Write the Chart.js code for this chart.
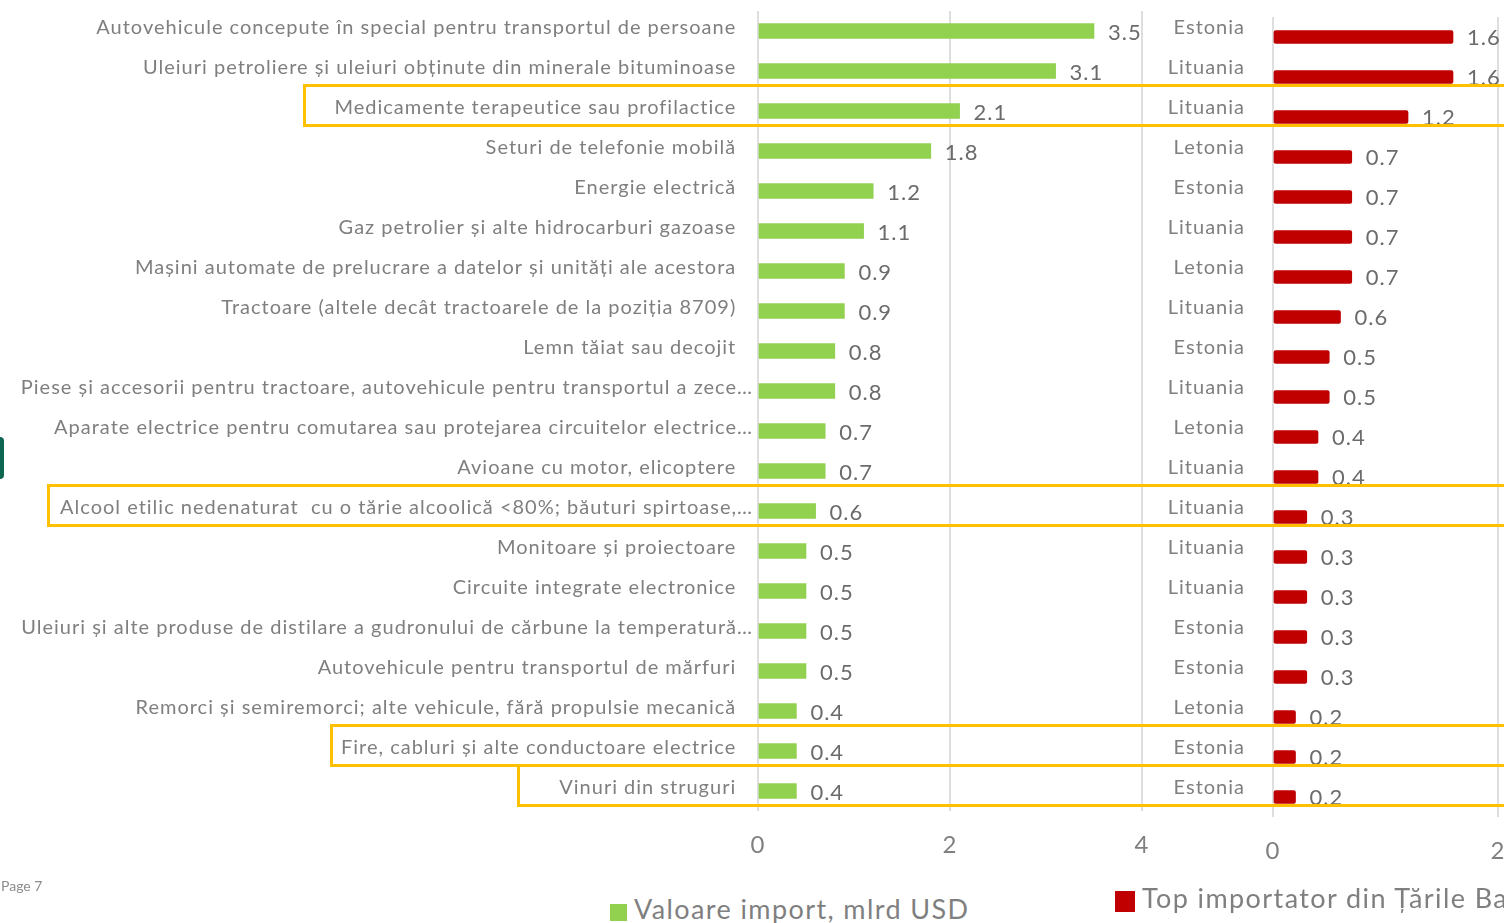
<!DOCTYPE html>
<html>
<head>
<meta charset="utf-8">
<script src="https://cdn.jsdelivr.net/npm/chart.js@4/dist/chart.umd.min.js"></script>
<style>
  html, body { margin: 0; padding: 0; background: #fff; }
  body { width: 1504px; height: 923px; overflow: hidden; position: relative; font-family: Lato, "Open Sans", sans-serif; }
  #leftChart { position: absolute; left: 0; top: 0; }
  #rightChart { position: absolute; left: 1150px; top: 6px; }
  .hl { position: absolute; border: 3px solid #FFC000; border-right: none; box-sizing: border-box; right: -10px; }
  .legend { position: absolute; color: #7f7f7f; white-space: nowrap; font-size: 27px; letter-spacing: 1.4px; line-height: 1; }
  .legend span { display: inline-block; vertical-align: middle; margin-right: 7px; }
  #page { position: absolute; left: 1px; top: 877px; font-size: 14px; color: #8c8c8c; }
  #edge { position: absolute; left: -5px; top: 437px; width: 9px; height: 42px; border-radius: 4px; background: #0d6650; }
</style>
</head>
<body>
<div id="edge"></div>
<canvas id="leftChart" width="1160" height="880"></canvas>
<canvas id="rightChart" width="400" height="880"></canvas>
<div id="boxes"></div>
<div class="legend" style="left:610px; top:895px;"><span style="width:17px;height:17px;background:#92D050;"></span>Valoare import, mlrd USD</div>
<div class="legend" style="left:1115px; top:884px;"><span style="width:20px;height:21px;background:#C00000;"></span>Top importator din Țările Baltice</div>
<div id="page">Page 7</div>
<script>
// produse importate
const categories = [
    "Autovehicule concepute în special pentru transportul de persoane",
    "Uleiuri petroliere și uleiuri obținute din minerale bituminoase",
    "Medicamente terapeutice sau profilactice",
    "Seturi de telefonie mobilă",
    "Energie electrică",
    "Gaz petrolier și alte hidrocarburi gazoase",
    "Mașini automate de prelucrare a datelor și unități ale acestora",
    "Tractoare (altele decât tractoarele de la poziția 8709)",
    "Lemn tăiat sau decojit",
    "Piese și accesorii pentru tractoare, autovehicule pentru transportul a zece…",
    "Aparate electrice pentru comutarea sau protejarea circuitelor electrice…",
    "Avioane cu motor, elicoptere",
    "Alcool etilic nedenaturat  cu o tărie alcoolică <80%; băuturi spirtoase,…",
    "Monitoare și proiectoare",
    "Circuite integrate electronice",
    "Uleiuri și alte produse de distilare a gudronului de cărbune la temperatură…",
    "Autovehicule pentru transportul de mărfuri",
    "Remorci și semiremorci; alte vehicule, fără propulsie mecanică",
    "Fire, cabluri și alte conductoare electrice",
    "Vinuri din struguri"
];
const importValues = [3.5, 3.1, 2.1, 1.8, 1.2, 1.1, 0.9, 0.9, 0.8, 0.8, 0.7, 0.7, 0.6, 0.5, 0.5, 0.5, 0.5, 0.4, 0.4, 0.4];

// top importator din Tarile Baltice
const countries = ["Estonia", "Lituania", "Lituania", "Letonia", "Estonia", "Lituania", "Letonia", "Lituania", "Estonia", "Lituania",
    "Letonia", "Lituania", "Lituania", "Lituania", "Lituania", "Estonia", "Estonia", "Letonia", "Estonia", "Estonia"];
const balticValues = [1.6, 1.6, 1.2, 0.7, 0.7, 0.7, 0.7, 0.6, 0.5, 0.5, 0.4, 0.4, 0.3, 0.3, 0.3, 0.3, 0.3, 0.2, 0.2, 0.2];

const leftTicks = [0, 2, 4];
const rightTicks = [0, 2];

// randuri marcate cu galben
const highlighted = [2, 12, 18, 19];
const highlightLeft = [303, 47, 330, 517];

const grey = "#7f7f7f";

// textul din original are litere mai rare
const spacing = {
    id: "spacing",
    beforeLayout(chart) { chart.ctx.letterSpacing = "1px"; },
    beforeDraw(chart) { chart.ctx.letterSpacing = "1px"; }
};

const valueLabels = {
    id: "valueLabels",
    afterDatasetsDraw(chart, args, opts) {
        const ctx = chart.ctx;
        const meta = chart.getDatasetMeta(0);
        const data = chart.data.datasets[0].data;
        ctx.save();
        ctx.font = opts.font;
        ctx.fillStyle = opts.color;
        ctx.textAlign = "left";
        ctx.textBaseline = "middle";
        meta.data.forEach((bar, i) => {
            ctx.fillText(data[i].toFixed(1), bar.x + opts.gap, bar.y + opts.dy);
        });
        ctx.restore();
    }
};

function makeChart(id, labels, values, color, barSize, radius, xMax, ticks, axisWidth, padRight, labelPad, labelOffset, valueDy, labelFn) {
    let ctx = document.getElementById(id).getContext("2d");
    return new Chart(ctx, {
        type: "bar",
        data: {
            labels: labels,
            datasets: [{
                data: values,
                backgroundColor: color,
                borderWidth: 0,
                borderRadius: radius,
                borderSkipped: false,
                barThickness: barSize
            }]
        },
        options: {
            indexAxis: "y",
            responsive: false,
            animation: false,
            layout: { padding: { top: 11, right: padRight, bottom: 10, left: 0 } },
            plugins: {
                legend: { display: false },
                tooltip: { enabled: false },
                valueLabels: { font: "22px Lato", color: "#6b6b6b", gap: 14, dy: valueDy }
            },
            scales: {
                x: {
                    min: 0,
                    max: xMax,
                    afterBuildTicks: (scale) => { scale.ticks = ticks.map((v) => ({ value: v })); },
                    afterFit: (scale) => {
                        scale.height = 59;
                        scale.paddingLeft = 0;
                        scale.paddingRight = 0;
                    },
                    border: { display: false },
                    grid: { color: "#dedede", lineWidth: 2, drawTicks: false },
                    ticks: { color: grey, font: { family: "Lato", size: 24 }, padding: 20 }
                },
                y: {
                    afterFit: (scale) => {
                        scale.width = axisWidth;
                        scale.paddingTop = 0;
                        scale.paddingBottom = 0;
                    },
                    border: { display: false },
                    grid: { display: false, drawTicks: false },
                    ticks: {
                        color: grey,
                        font: { family: "Lato", size: 20 },
                        padding: labelPad,
                        labelOffset: labelOffset,
                        autoSkip: false,
                        callback: labelFn
                    }
                }
            }
        },
        plugins: [spacing, valueLabels]
    });
}

// etichetele trunchiate ies putin mai la dreapta, ca in original
function productLabel(value, index) {
    let t = categories[index];
    return t.endsWith("…") ? t : t + "\u2002\u2009\u200A";
}
function countryLabel(value, index) {
    return countries[index];
}

let leftChart = makeChart("leftChart", categories, importValues, "#92D050", 15, 0, 4, leftTicks, 758, 18, 5, -3, 2, productLabel);
let rightChart = makeChart("rightChart", countries, balticValues, "#C00000", 13, 2, 2, rightTicks, 123, 52, 28, -9, 1, countryLabel);

// casetele galbene, pozitionate dupa scala y
const boxes = document.getElementById("boxes");
highlighted.forEach((idx, k) => {
    let yc = leftChart.scales.y.getPixelForValue(idx);
    let d = document.createElement("div");
    d.className = "hl";
    d.style.left = highlightLeft[k] + "px";
    d.style.top = (yc - 27) + "px";
    d.style.height = "43px";
    boxes.appendChild(d);
});
</script>
</body>
</html>
